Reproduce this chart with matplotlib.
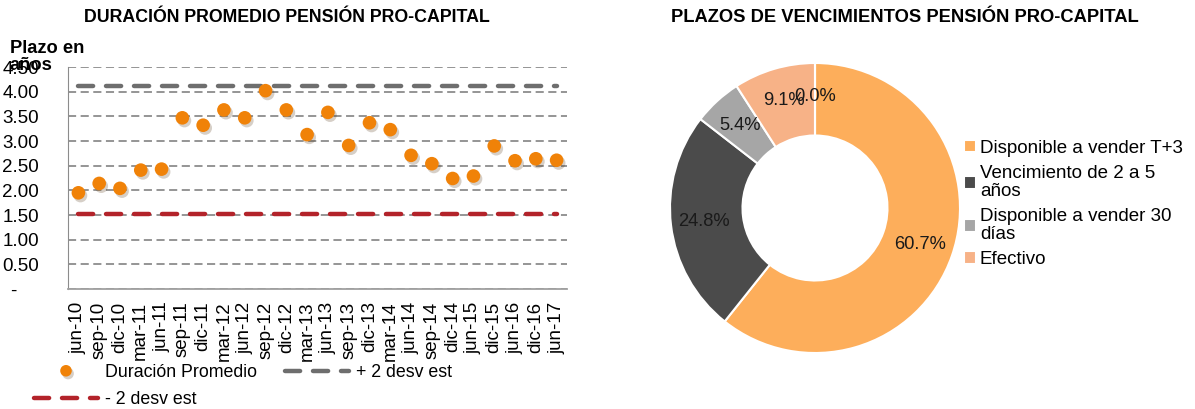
import matplotlib
matplotlib.use("Agg")
import matplotlib.pyplot as plt
import matplotlib.patheffects as pe
import numpy as np

plt.rcParams["font.family"] = ["Liberation Sans", "DejaVu Sans"]

# left chart data
periods = ["jun-10", "sep-10", "dic-10", "mar-11", "jun-11", "sep-11", "dic-11", "mar-12",
           "jun-12", "sep-12", "dic-12", "mar-13", "jun-13", "sep-13", "dic-13", "mar-14",
           "jun-14", "sep-14", "dic-14", "jun-15", "dic-15", "jun-16", "dic-16", "jun-17"]
duracion = [1.95, 2.14, 2.04, 2.41, 2.43, 3.47, 3.32, 3.63, 3.47, 4.02, 3.63, 3.13,
            3.58, 2.91, 3.37, 3.23, 2.71, 2.54, 2.24, 2.29, 2.90, 2.60, 2.64, 2.61]
upper_band = 4.12
lower_band = 1.52
y_ticks = [0, 0.5, 1.0, 1.5, 2.0, 2.5, 3.0, 3.5, 4.0, 4.5]
y_tick_labels = ["-    ", "0.50", "1.00", "1.50", "2.00", "2.50", "3.00", "3.50", "4.00", "4.50"]

# right chart data
pie_labels = ["Disponible a vender T+3", "Vencimiento de 2 a 5\naños",
              "Disponible a vender 30\ndías", "Efectivo", "Otros"]
pie_values = [60.7, 24.8, 5.4, 9.1, 0.0]
pie_colors = ["#FDAE5B", "#4B4B4B", "#A6A6A6", "#F7B287", "#D9D9D9"]

ORANGE = "#F08208"
GRAY_BAND = "#6E6E6E"
RED_BAND = "#B3232A"

fig = plt.figure(figsize=(11.95, 4.09), dpi=100)

# ---- left: duration scatter ----
ax = fig.add_axes([68 / 1195, 1 - 289 / 409, 499 / 1195, 222 / 409])
x = np.arange(len(periods))
ax.yaxis.grid(True, color="#8C8C8C", linestyle=(0, (4.5, 2.5)), linewidth=1.3)
ax.set_axisbelow(True)
ax.plot([x[0], x[-1]], [upper_band] * 2, color=GRAY_BAND, linewidth=3.2,
        linestyle=(0, (3.4, 2.9)), dash_capstyle="round", label="+ 2 desv est")
ax.plot([x[0], x[-1]], [lower_band] * 2, color=RED_BAND, linewidth=3.2,
        linestyle=(0, (3.4, 2.9)), dash_capstyle="round", label="- 2 desv est")
ax.plot(x, duracion, linestyle="none", marker="o", markersize=9.8, color=ORANGE,
        markeredgewidth=0, label="Duración Promedio",
        path_effects=[pe.SimplePatchShadow(offset=(1.5, -2), alpha=0.22), pe.Normal()])
ax.set_xlim(-0.5, len(periods) - 0.5)
ax.set_ylim(0, 4.5)
ax.set_yticks(y_ticks)
ax.set_yticklabels(y_tick_labels, fontsize=13.5)
ax.set_xticks(x)
ax.set_xticklabels(periods, rotation=90, fontsize=13.5)
ax.tick_params(axis="both", length=0)
ax.tick_params(axis="y", pad=21)
ax.tick_params(axis="x", pad=9)
for side in ["top", "right"]:
    ax.spines[side].set_visible(False)
ax.spines["left"].set_color("#8C8C8C")
ax.spines["bottom"].set_color("#A0A0A0")
ax.spines["bottom"].set_linewidth(1.3)

fig.text(287 / 1195, 1 - 18 / 409, "DURACIÓN PROMEDIO PENSIÓN PRO-CAPITAL",
         ha="center", va="center", fontsize=12.8, fontweight="bold")
fig.text(10 / 1195, 1 - 57 / 409, "Plazo en\naños", ha="left", va="center",
         fontsize=13.2, fontweight="bold", linespacing=1.0)

handles, labels = ax.get_legend_handles_labels()
order = [2, 1, 0]
fig.legend([handles[i] for i in order], [labels[i] for i in order],
           loc="upper left", bbox_to_anchor=(34 / 1195, 1 - 364 / 409), ncol=2,
           frameon=False, fontsize=12.8, handlelength=3.6, handletextpad=0.4,
           columnspacing=1.55, labelspacing=0.55, borderpad=0, borderaxespad=0,
           markerscale=0.85)

# ---- right: donut ----
pax = fig.add_axes([670 / 1195, 1 - 353 / 409, 290 / 1195, 290 / 409])
wedges, texts, autotexts = pax.pie(pie_values, colors=pie_colors, startangle=90,
                                   counterclock=False, autopct="%.1f%%", pctdistance=0.77,
                                   wedgeprops=dict(width=0.5, edgecolor="white", linewidth=1.5),
                                   textprops=dict(fontsize=13.2, color="#1A1A1A"))
pax.set_xlim(-1, 1)
pax.set_ylim(-1, 1)
pax.set_aspect("equal")

fig.text(905 / 1195, 1 - 18 / 409, "PLAZOS DE VENCIMIENTOS PENSIÓN PRO-CAPITAL",
         ha="center", va="center", fontsize=13.2, fontweight="bold")

pie_leg = fig.legend(wedges[:4], pie_labels[:4], loc="center left",
                     bbox_to_anchor=(964 / 1195, 1 - 204 / 409), frameon=False, fontsize=13.5,
                     handlelength=0.65, handleheight=0.65, handletextpad=0.2, labelspacing=0.45,
                     borderpad=0, borderaxespad=0)
for t in pie_leg.get_texts():
    t.set_linespacing(1.05)

fig.savefig("out.png", dpi=100)
